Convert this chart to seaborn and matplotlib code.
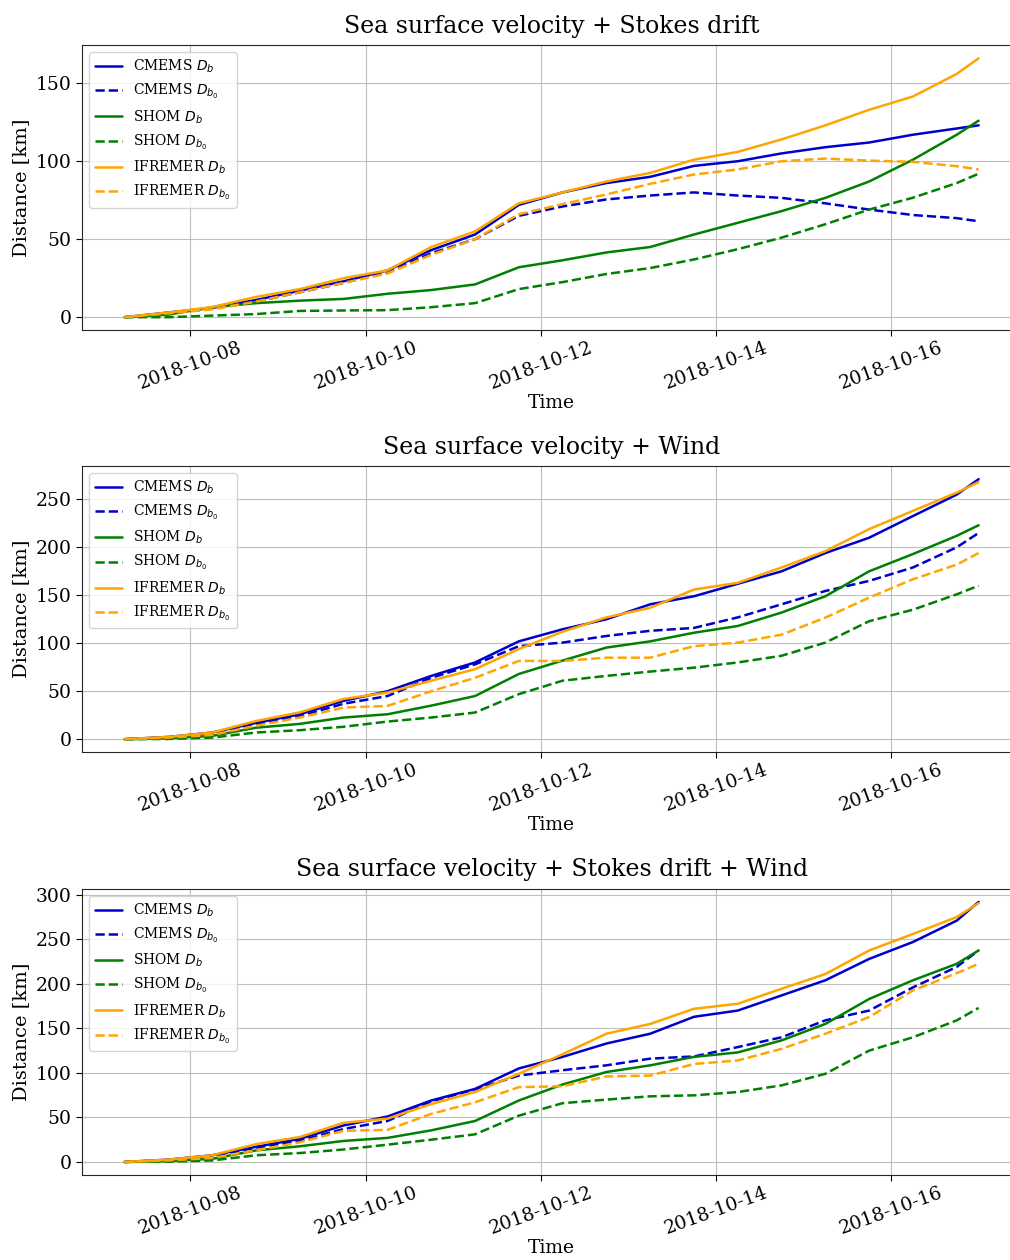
import pandas as pd
import seaborn as sns
import matplotlib.pyplot as plt
from matplotlib.ticker import MultipleLocator

"""Time axis: every 12 h from 2018-10-07 06:00, plus the last record"""
times = pd.date_range('2018-10-07 06:00', periods=20, freq='12h').append(
    pd.DatetimeIndex(['2018-10-17 00:00']))

"""Sea surface velocity + Stokes drift"""
cmems_db_s = [0, 3, 6, 11, 17, 23, 30, 43, 53, 72, 80, 86, 90, 97, 100, 105, 109, 112, 117, 121, 123]
cmems_db0_s = [0, 2.5, 5.5, 10, 16, 22, 29, 41, 50, 65, 71, 75.5, 78, 80, 78, 76.5, 73, 69, 65.5, 63.5, 61.5]
shom_db_s = [0, 1.7, 6.4, 9, 10.6, 11.7, 15, 17.4, 21, 32, 36.5, 41.5, 45, 53, 60.5, 68, 76.5, 87, 101, 117, 126]
shom_db0_s = [0, 0, 1, 2, 4, 4.3, 4.5, 6.4, 9, 18, 22.5, 27.7, 31.5, 37, 43.6, 51, 59.6, 69, 76.6, 86, 92]
ifr_db_s = [0, 3, 6.5, 13, 18, 25, 30, 45, 55, 73, 80, 87, 92.5, 101, 106, 114, 123, 133, 141.5, 156, 166]
ifr_db0_s = [0, 2.5, 5, 10, 16, 22, 28, 40, 50, 66, 72.5, 78.7, 85.5, 91.5, 94.7, 100, 101.7, 100.4, 99.6, 96.8, 94.7]

"""Sea surface velocity + Wind"""
cmems_db_w = [0, 2.4, 7, 17, 26, 40, 50, 66, 80, 102, 114.6, 125, 140.6, 149, 162, 175, 194, 210, 232.6, 255, 271]
cmems_db0_w = [0, 2, 6, 16, 24, 37, 45, 64, 78, 97, 100.7, 107.6, 113, 116, 127, 140.6, 154.5, 165, 179, 200, 215]
shom_db_w = [0, 1, 3.5, 12, 16, 22.6, 26, 35, 45, 68, 82, 95.5, 102, 111, 118, 132, 149, 175, 193, 212, 223]
shom_db0_w = [0, 0.3, 1.7, 7, 9.4, 13, 18.4, 22.6, 27.8, 47, 61, 66, 70.5, 74.6, 80, 87, 100.7, 123, 135, 151, 160]
ifr_db_w = [0, 2.4, 7, 19, 28, 42, 48.6, 61, 73, 94, 112, 127, 137, 156, 163, 179, 196, 219, 238, 257, 268]
ifr_db0_w = [0, 1.7, 4.5, 14, 22.6, 33, 34.7, 50, 64, 81.6, 81.6, 85, 85, 97, 100.7, 109, 126.7, 147.6, 166.7, 182, 194]

"""Sea surface velocity + Stokes drift + Wind"""
cmems_db_sw = [0, 2.6, 7.5, 17, 26, 41, 51, 69, 82, 105, 118, 133, 144, 163, 170, 187, 204, 228, 247, 271, 292]
cmems_db0_sw = [0, 2, 6.5, 16, 24, 37, 46, 68, 81.5, 97, 103, 108.5, 116, 118.5, 129, 140, 159, 170, 196, 219, 237.5]
shom_db_sw = [0, 1, 3.5, 13, 17.6, 23.6, 27, 35.5, 46, 69, 87, 101, 108.5, 118, 123, 136.5, 155, 183, 204, 222.5, 237.5]
shom_db0_sw = [0, 0.3, 1.7, 7.5, 10, 14, 19.4, 25, 31, 52, 66, 70, 73.7, 74.8, 78.5, 86, 99, 125, 140, 159, 173]
ifr_db_sw = [0, 2.6, 7.5, 20, 28, 44, 48.6, 65, 78.5, 99, 121, 144, 155, 172, 177.6, 194.5, 211, 237.5, 256, 275, 290.6]
ifr_db0_sw = [0, 1.7, 4.5, 13, 22, 35, 36, 54, 67, 84, 85, 96, 97, 110, 114, 127, 144, 162.7, 192.6, 212, 222.5]

titles = ['Sea surface velocity + Stokes drift',
          'Sea surface velocity + Wind',
          'Sea surface velocity + Stokes drift + Wind']
panels = [
    [cmems_db_s, cmems_db0_s, shom_db_s, shom_db0_s, ifr_db_s, ifr_db0_s],
    [cmems_db_w, cmems_db0_w, shom_db_w, shom_db0_w, ifr_db_w, ifr_db0_w],
    [cmems_db_sw, cmems_db0_sw, shom_db_sw, shom_db0_sw, ifr_db_sw, ifr_db0_sw],
]
labels = ['CMEMS $D_b$', 'CMEMS $D_{b_0}$', 'SHOM $D_b$', 'SHOM $D_{b_0}$',
          'IFREMER $D_b$', 'IFREMER $D_{b_0}$']
colors = ['#0000cc', '#0000cc', 'green', 'green', 'orange', 'orange']
styles = ['-', '--', '-', '--', '-', '--']
xticks = pd.to_datetime(['2018-10-08', '2018-10-10', '2018-10-12', '2018-10-14', '2018-10-16'])

sns.set_style('ticks', {'axes.grid': True, 'axes.edgecolor': '.15', 'grid.color': '.75',
                        'text.color': 'black', 'xtick.color': 'black', 'ytick.color': 'black',
                        'axes.labelcolor': 'black'})
plt.rcParams['font.family'] = ['DejaVu Serif']

fig, axes = plt.subplots(3, 1, figsize=(10.1, 12.6), dpi=100)
positions = [[0.0812, 0.738, 0.93, 0.226],
             [0.0812, 0.403, 0.93, 0.227],
             [0.0812, 0.0675, 0.93, 0.227]]

for ax, series, title, pos in zip(axes, panels, titles, positions):
    ax.set_position(pos)
    for vals, lab, col, ls in zip(series, labels, colors, styles):
        sns.lineplot(ax=ax, x=times, y=vals, color=col, linestyle=ls, linewidth=1.8, label=lab)
    ax.set_title(title, fontsize=17, pad=9)
    ax.set_xlabel('Time', fontsize=13.5, labelpad=1)
    ax.set_ylabel('Distance [km]', fontsize=14)
    ax.yaxis.set_major_locator(MultipleLocator(50))
    ax.set_xticks(xticks)
    ax.set_xticklabels([d.strftime('%Y-%m-%d') for d in xticks], rotation=20)
    ax.tick_params(labelsize=13.5, length=4)
    ax.tick_params(axis='x', pad=2)
    ax.legend(loc='upper left', fontsize=10)

fig.savefig('out.png', dpi=100)
